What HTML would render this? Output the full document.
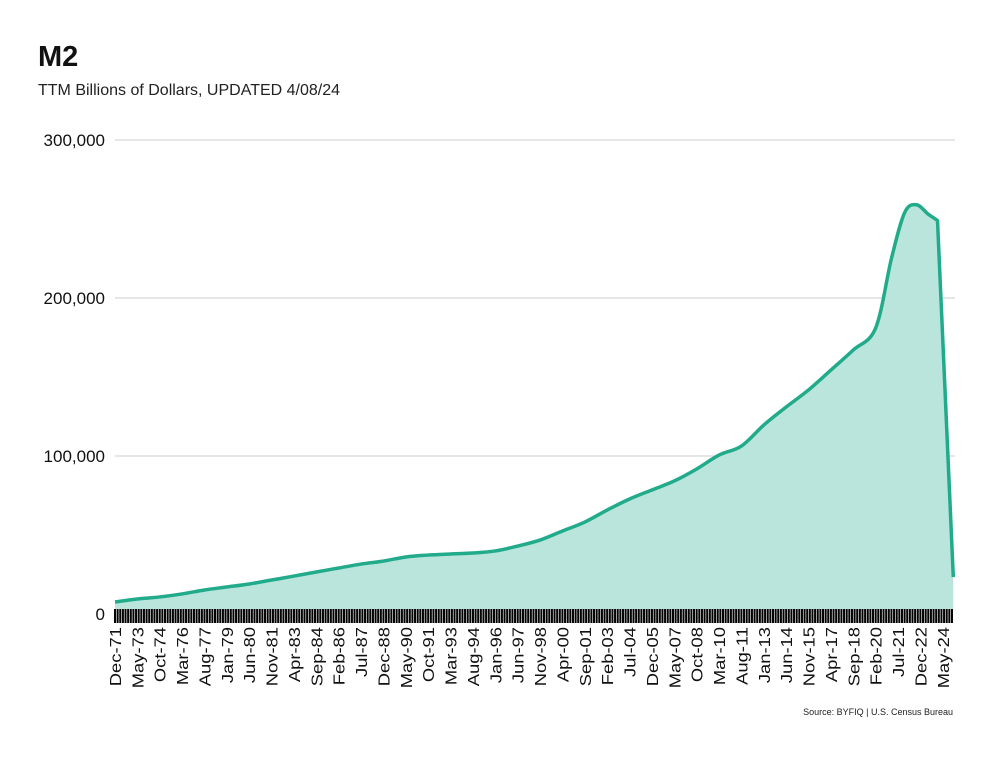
<!DOCTYPE html>
<html><head><meta charset="utf-8"><style>
body{margin:0;background:#fff;font-family:"Liberation Sans",sans-serif}
</style></head><body>
<svg width="992" height="756" id="c" xmlns="http://www.w3.org/2000/svg">
<text x="38" y="66" font-size="29" font-weight="bold" fill="#111">M2</text>
<text x="38" y="95" font-size="16" fill="#222">TTM Billions of Dollars, UPDATED 4/08/24</text>
<text x="953" y="715" font-size="9" fill="#222" text-anchor="end">Source: BYFIQ | U.S. Census Bureau</text>
<g id="grid"></g><g id="area"></g><g id="ticks"></g><g id="xl"></g>
</svg>
<script>
const dates=["1971-12","1973-05","1974-10","1976-03","1977-08","1979-01","1980-06","1981-11","1983-04","1984-09","1986-02","1987-07","1988-12","1990-05","1991-10","1993-03","1994-08","1996-01","1997-06","1998-11","2000-04","2001-09","2003-02","2004-07","2005-12","2007-05","2008-10","2010-03","2011-08","2013-01","2014-06","2015-11","2017-04","2018-09","2020-02","2021-02","2021-12","2022-09","2023-06","2024-01","2025-01"];
const values=[7600,9500,10800,12700,15200,17100,19000,21500,24000,26600,29100,31600,33500,36100,37300,38000,38600,39900,43000,46800,52500,58200,65800,72800,78500,84200,91800,100600,106300,119600,131000,141800,154400,167100,181000,225000,254000,259000,253000,249000,23400];
const yTicks=[0,100000,200000,300000];
const xLabels=["Dec-71","May-73","Oct-74","Mar-76","Aug-77","Jan-79","Jun-80","Nov-81","Apr-83","Sep-84","Feb-86","Jul-87","Dec-88","May-90","Oct-91","Mar-93","Aug-94","Jan-96","Jun-97","Nov-98","Apr-00","Sep-01","Feb-03","Jul-04","Dec-05","May-07","Oct-08","Mar-10","Aug-11","Jan-13","Jun-14","Nov-15","Apr-17","Sep-18","Feb-20","Jul-21","Dec-22","May-24"];
const NS="http://www.w3.org/2000/svg";
function mi(d){const[a,b]=d.split("-").map(Number);return (a-1971)*12+(b-12);}
const X=m=>115+m*1.316, Y=v=>614-v*0.00158;
function mk(t,p,at){const e=document.createElementNS(NS,t);for(const k in at)e.setAttribute(k,at[k]);p.appendChild(e);return e;}
const grid=document.getElementById("grid");
yTicks.forEach(v=>{
 if(v>0){const l=mk("line",grid,{x1:115,x2:955,y1:Y(v),y2:Y(v),stroke:"#ccc","stroke-width":1});
 
 }
 const t=mk("text",grid,{x:105,y:Y(v)+6,"font-size":17,"text-anchor":"end",fill:"#111"});
 t.textContent=v.toLocaleString("en-US");
 
 
});
const pts=dates.map((d,i)=>[X(mi(d)),Y(values[i])]);
let path="M"+pts[0][0]+","+pts[0][1];
for(let i=1;i<pts.length;i++){
 const p0=pts[Math.max(0,i-2)],p1=pts[i-1],p2=pts[i],p3=pts[Math.min(pts.length-1,i+1)];
 if(i>=pts.length-1){path+=" L"+p2[0]+","+p2[1];continue;}
 const c1=[p1[0]+(p2[0]-p0[0])/6,p1[1]+(p2[1]-p0[1])/6],c2=[p2[0]-(p3[0]-p1[0])/6,p2[1]-(p3[1]-p1[1])/6];
 if(i==pts.length-2){c2[0]=p2[0]-4;c2[1]=p2[1]-3;}
 path+=` C${c1[0]},${c1[1]} ${c2[0]},${c2[1]} ${p2[0]},${p2[1]}`;
}
const area=document.getElementById("area");
const fa=mk("path",area,{d:path+` L${pts[pts.length-1][0]},609 L${pts[0][0]},609 Z`,fill:"#b9e5dc"});


const ln=mk("path",area,{d:path,fill:"none",stroke:"#21ab8b","stroke-width":3.5,"stroke-linejoin":"round"});


const tk=document.getElementById("ticks");
let td="";for(let m=0;m<=637;m+=2){const x=X(m);td+=`M${x},609V623`;}
const tp=mk("path",tk,{d:td,stroke:"#000","stroke-width":2});


const xl=document.getElementById("xl");
xLabels.forEach((s,i)=>{const x=X(i*17)+6;
 const t=mk("text",xl,{x:0,y:0,"font-size":17.5,"text-anchor":"end",fill:"#111",transform:`translate(${x},627) rotate(-90) scale(1.05,0.92)`});
 t.textContent=s;
 
 
});
</script>
</body></html>
